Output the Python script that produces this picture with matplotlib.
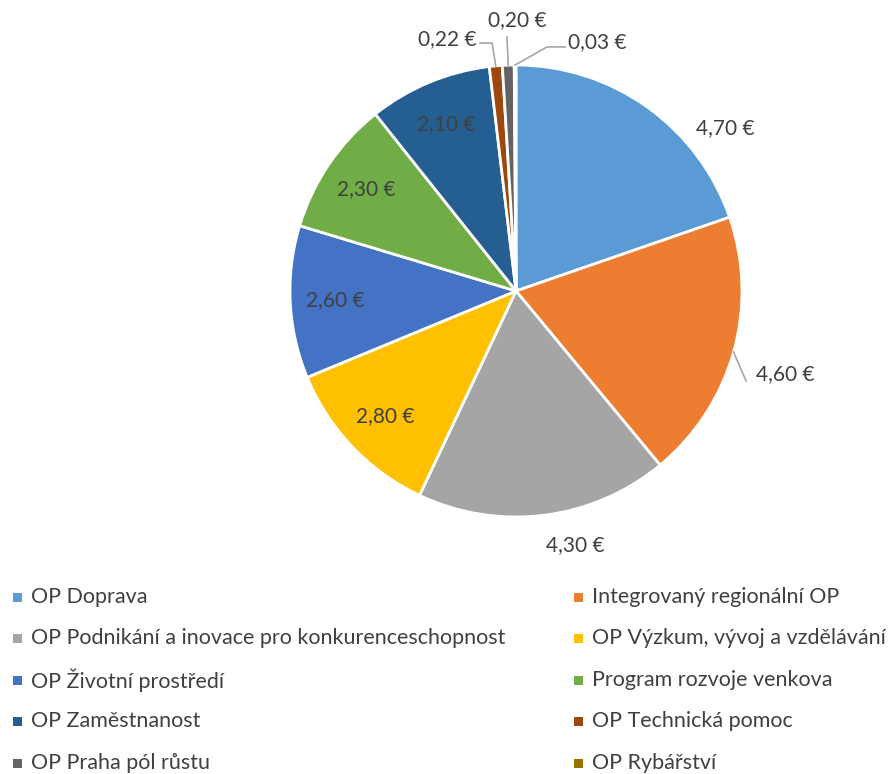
import numpy as np
import matplotlib.pyplot as plt

plt.rcParams['font.family'] = ['Lato', 'DejaVu Sans']

# data
categories = ['OP Doprava', 'Integrovaný regionální OP',
              'OP Podnikání a inovace pro konkurenceschopnost',
              'OP Výzkum, vývoj a vzdělávání', 'OP Životní prostředí',
              'Program rozvoje venkova', 'OP Zaměstnanost',
              'OP Technická pomoc', 'OP Praha pól růstu', 'OP Rybářství']
values = [4.70, 4.60, 4.30, 2.80, 2.60, 2.30, 2.10, 0.22, 0.20, 0.03]
labels = ['%.2f €' % v for v in values]
labels = [s.replace('.', ',') for s in labels]

colors = ['#5B9BD5', '#ED7D31', '#A5A5A5', '#FFC000', '#4472C4',
          '#70AD47', '#255E91', '#9E480E', '#636363', '#997300']

# label placement (in pie radius units) and leader elbows
lbl_pos = [(0.925, 0.721), (1.19, -0.367), (0.261, -1.124), None, None,
           None, None, (-0.305, 1.115), (0.004, 1.199), (0.358, 1.102)]
elbows = {1: [(1.018, -0.398)],
          7: [(-0.159, 1.097), (-0.106, 1.097)],
          8: [(-0.040, 1.124)],
          9: [(0.217, 1.080), (0.137, 1.080)]}

W, H = 892, 774
fig = plt.figure(figsize=(W / 100, H / 100), dpi=100)
cx, cy, r = 516, 291, 226
ax = fig.add_axes([(cx - r) / W, (H - cy - r) / H, 2 * r / W, 2 * r / H])

wedges, _ = ax.pie(values, colors=colors, startangle=90, counterclock=False,
                   wedgeprops=dict(edgecolor='white', linewidth=2))
ax.set_xlim(-1, 1)
ax.set_ylim(-1, 1)

txt_col = '#404040'
for i, w in enumerate(wedges):
    mid = np.deg2rad((w.theta1 + w.theta2) / 2)
    if lbl_pos[i] is None:
        x, y = 0.8 * np.cos(mid), 0.8 * np.sin(mid)
    else:
        x, y = lbl_pos[i]
    ax.text(x, y, labels[i], ha='center', va='center', fontsize=15,
            color=txt_col)
    if i in elbows:
        pts = elbows[i] + [(np.cos(mid), np.sin(mid))]
        xs = [p[0] for p in pts]
        ys = [p[1] for p in pts]
        ax.plot(xs, ys, color='#A6A6A6', lw=1.2, clip_on=False)

# legend, two columns
row_y = [597, 638, 680, 721, 763]
for i, name in enumerate(categories):
    col = i % 2
    row = i // 2
    mx = 17 if col == 0 else 578
    yy = 1 - row_y[row] / H
    fig.patches.append(plt.Rectangle(((mx - 4.5) / W, yy - 4.5 / H), 9 / W, 9 / H,
                                     transform=fig.transFigure,
                                     facecolor=colors[i], edgecolor='none'))
    fig.text((mx + 14) / W, yy, name, ha='left', va='center', fontsize=15.5,
             color=txt_col)

fig.savefig('out.png', dpi=100)
